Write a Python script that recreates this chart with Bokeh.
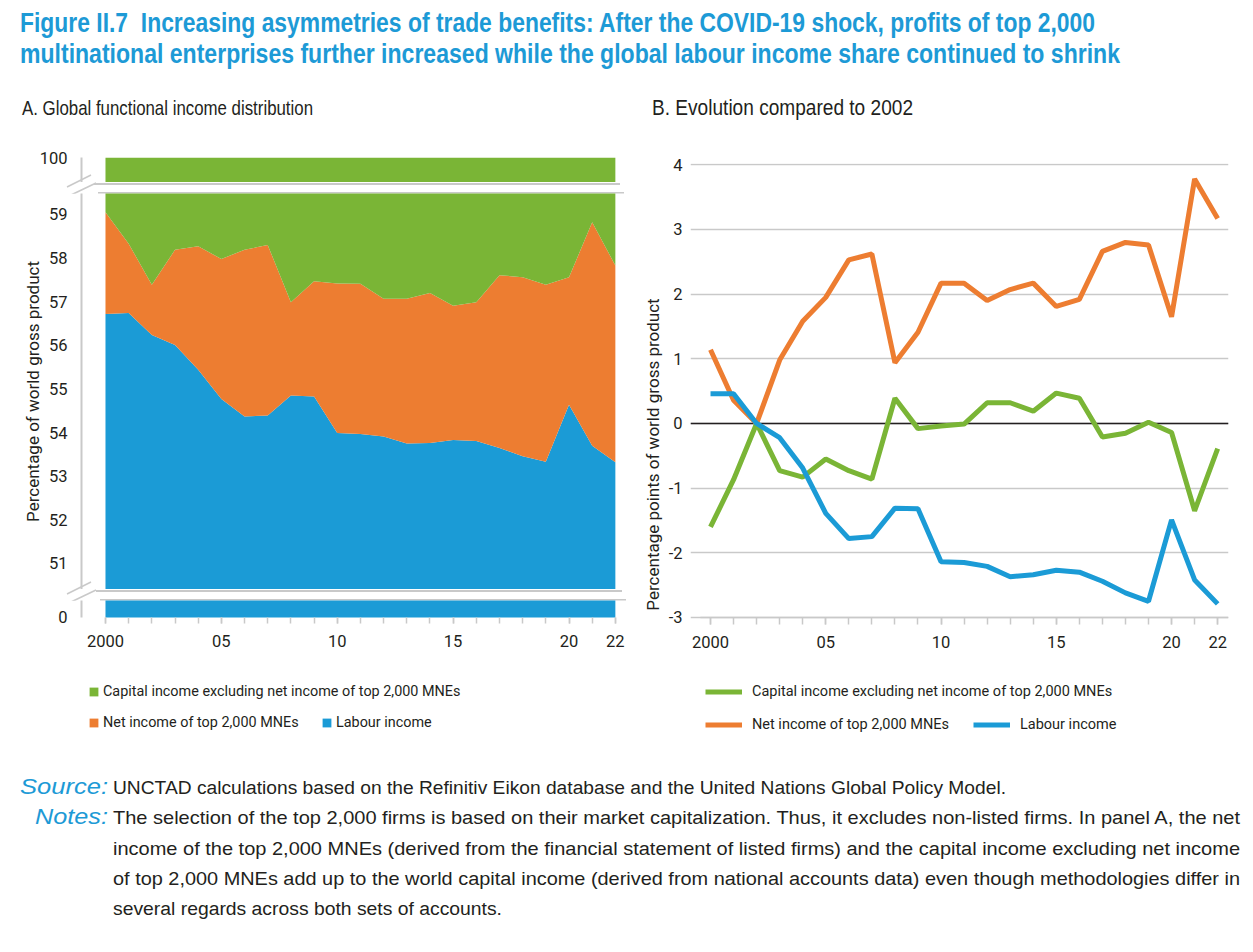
from bokeh.plotting import figure
from bokeh.models import (ColumnDataSource, FixedTicker, Legend, LegendItem, Grid, Div, Range1d)
from bokeh.layouts import column, row
from bokeh.embed import file_html
from bokeh.resources import INLINE

# ---------------- data ----------------
years = list(range(2000, 2023))

# Panel A: shares of world gross product (%)
labour_share = [56.72, 56.74, 56.24, 56.01, 55.44, 54.77, 54.37, 54.39, 54.85, 54.83, 53.99, 53.97,
                53.91, 53.75, 53.76, 53.83, 53.81, 53.65, 53.46, 53.33, 54.64, 53.70, 53.32]
mne_net_share = [2.33, 1.59, 1.15, 2.18, 2.83, 3.21, 3.82, 3.91, 2.14, 2.64, 3.43, 3.44,
                 3.16, 3.32, 3.44, 3.08, 3.18, 3.96, 4.10, 4.06, 2.92, 5.12, 4.51]
capital_excl_share = [40.95, 41.67, 42.61, 41.81, 41.73, 42.02, 41.81, 41.70, 43.01, 42.53, 42.58, 42.59,
                      42.93, 42.93, 42.80, 43.09, 43.01, 42.39, 42.44, 42.61, 42.44, 41.18, 42.17]

# Panel B: percentage points change compared to 2002
chg_capital = [-1.60, -0.87, 0.00, -0.73, -0.83, -0.55, -0.73, -0.86, 0.39, -0.08, -0.04, -0.01,
               0.32, 0.32, 0.19, 0.47, 0.39, -0.21, -0.15, 0.02, -0.14, -1.35, -0.39]
chg_mne = [1.14, 0.36, 0.00, 0.98, 1.58, 1.95, 2.53, 2.62, 0.94, 1.41, 2.17, 2.17,
           1.90, 2.07, 2.17, 1.81, 1.92, 2.66, 2.80, 2.76, 1.65, 3.78, 3.17]
chg_labour = [0.46, 0.46, 0.00, -0.22, -0.69, -1.39, -1.78, -1.75, -1.31, -1.32, -2.14, -2.15,
              -2.21, -2.37, -2.34, -2.27, -2.30, -2.44, -2.62, -2.75, -1.49, -2.42, -2.79]

year_ticks = [2000, 2005, 2010, 2015, 2020, 2022]
year_tick_labels = ["2000", "05", "10", "15", "20", "22"]
b_ticks = [-3, -2, -1, 0, 1, 2, 3, 4]
b_tick_labels = ["-3", "-2", "-1", "0", "1", "2", "3", "4"]

labels = ["Capital income excluding net income of top 2,000 MNEs",
          "Net income of top 2,000 MNEs",
          "Labour income"]

# ---------------- style ----------------
GREEN = "#7ab536"
ORANGE = "#ed7d31"
BLUE = "#1b9bd6"
TITLE_BLUE = "#1d9ad6"
TEXT = "#231f20"
GRAY = "#c9c9c9"
FONT = "Roboto"
TICK_SIZE = "16.5px"

src_a = ColumnDataSource(dict(year=years, labour=labour_share, net=mne_net_share, cap=capital_excl_share))
src_b = ColumnDataSource(dict(year=years, cap=chg_capital, mne=chg_mne, lab=chg_labour))

xr_a = Range1d(1998.965, 2022.61)


def style_yaxis(p, ticks, tick_labels):
    ax = p.yaxis[0]
    ax.ticker = FixedTicker(ticks=ticks)
    ax.major_label_overrides = {t: l for t, l in zip(ticks, tick_labels)}
    ax.axis_line_color = GRAY
    ax.axis_line_width = 2
    ax.major_tick_line_color = None
    ax.minor_tick_line_color = None
    ax.major_label_standoff = 8
    ax.major_label_text_font = FONT
    ax.major_label_text_font_size = TICK_SIZE
    ax.major_label_text_color = TEXT


def style_xaxis(ax, tick_out):
    ax.ticker = FixedTicker(ticks=year_ticks, minor_ticks=years)
    ax.major_label_overrides = {t: l for t, l in zip(year_ticks, year_tick_labels)}
    ax.major_tick_line_color = GRAY
    ax.minor_tick_line_color = GRAY
    ax.major_tick_line_width = 1.5
    ax.minor_tick_line_width = 1.5
    ax.major_tick_out = tick_out
    ax.major_tick_in = 0
    ax.minor_tick_out = tick_out
    ax.minor_tick_in = 0
    ax.major_label_standoff = 12
    ax.major_label_text_font = FONT
    ax.major_label_text_font_size = TICK_SIZE
    ax.major_label_text_color = TEXT


def panel_a_fig(height, yr, top, with_xaxis):
    p = figure(width=627, height=height, x_range=xr_a, y_range=yr,
               output_backend="svg", toolbar_location=None,
               x_axis_location="below" if with_xaxis else None,
               min_border_left=73, min_border_right=6,
               min_border_top=top, min_border_bottom=0)
    p.grid.visible = False
    p.outline_line_color = None
    p.background_fill_color = "white"
    p.border_fill_color = "white"
    rs = p.varea_stack(stackers=["labour", "net", "cap"], x="year",
                       color=[BLUE, ORANGE, GREEN], source=src_a)
    return p, rs


def one_legend(renderer, label, loc, gw, standoff, size):
    return Legend(items=[LegendItem(label=label, renderers=[renderer])], location=loc,
                  orientation="horizontal", background_fill_alpha=0, border_line_color=None,
                  padding=0, margin=0, spacing=0, glyph_width=gw, glyph_height=11,
                  label_height=11, label_standoff=standoff, label_text_font=FONT,
                  label_text_font_size=size, label_text_color=TEXT)


# ---------------- panel A (broken axis: three stacked views) ----------------
pa_top, _ = panel_a_fig(42, Range1d(99.4, 100.0), 17, False)
style_yaxis(pa_top, [100], ["100"])

pa_mid, _ = panel_a_fig(396, Range1d(50.404, 59.481), 0, False)
style_yaxis(pa_mid, [51, 52, 53, 54, 55, 56, 57, 58, 59], [str(v) for v in range(51, 60)])
pa_mid.yaxis.axis_label = "Percentage of world gross product"
pa_mid.yaxis.axis_label_text_font = FONT
pa_mid.yaxis.axis_label_text_font_size = "17px"
pa_mid.yaxis.axis_label_text_font_style = "normal"
pa_mid.yaxis.axis_label_text_color = TEXT
pa_mid.yaxis.axis_label_standoff = 3

pa_bot, rs_a = panel_a_fig(145, Range1d(-3.012, 0.4), 0, True)
style_yaxis(pa_bot, [0], ["0"])
pa_bot.yaxis.bounds = (0, 0.4)
xa = pa_bot.xaxis[0]
style_xaxis(xa, 6)
xa.axis_line_color = None
xa.fixed_location = 0

lab_r, net_r, cap_r = rs_a
pa_bot.add_layout(one_legend(cap_r, labels[0], (7, 45), 11, 4, "14.4px"))
pa_bot.add_layout(one_legend(net_r, labels[1], (7, 14), 11, 4, "14.4px"))
pa_bot.add_layout(one_legend(lab_r, labels[2], (240, 14), 11, 4, "14.4px"))

# ---------------- panel B ----------------
xb_lo, xb_hi = 1999.566, 2022.47
pb = figure(width=610, height=605, x_range=Range1d(1999.132, xb_hi), y_range=Range1d(-4.98, 4.02),
            output_backend="svg", toolbar_location=None,
            min_border_left=55, min_border_right=17, min_border_top=23, min_border_bottom=0)
pb.outline_line_color = None
pb.xgrid.visible = False
pb.ygrid.ticker = FixedTicker(ticks=b_ticks)
pb.ygrid.grid_line_color = GRAY
pb.ygrid.grid_line_width = 1.5
pb.ygrid.bounds = (xb_lo, xb_hi)

yb = pb.yaxis[0]
yb.ticker = FixedTicker(ticks=b_ticks)
yb.major_label_overrides = {t: l for t, l in zip(b_ticks, b_tick_labels)}
yb.axis_line_color = None
yb.major_tick_line_color = None
yb.minor_tick_line_color = None
yb.major_label_standoff = 2
yb.major_label_text_font = FONT
yb.major_label_text_font_size = TICK_SIZE
yb.major_label_text_color = TEXT
yb.axis_label = "Percentage points of world gross product"
yb.axis_label_text_font = FONT
yb.axis_label_text_font_size = "17px"
yb.axis_label_text_font_style = "normal"
yb.axis_label_text_color = TEXT
yb.axis_label_standoff = 3

xb = pb.xaxis[0]
style_xaxis(xb, 7)
xb.axis_line_color = GRAY
xb.axis_line_width = 1.5
xb.fixed_location = -3
xb.bounds = (xb_lo, xb_hi)

pb.add_layout(Grid(dimension=1, ticker=FixedTicker(ticks=[0]), grid_line_color=TEXT,
                   grid_line_width=1.5, bounds=(xb_lo, xb_hi)))
r_mne = pb.line("year", "mne", source=src_b, line_color=ORANGE, line_width=5)
r_cap = pb.line("year", "cap", source=src_b, line_color=GREEN, line_width=5)
r_lab = pb.line("year", "lab", source=src_b, line_color=BLUE, line_width=5)

pb.add_layout(one_legend(r_cap, labels[0], (15, 45.5), 37, 10, "14.5px"))
pb.add_layout(one_legend(r_mne, labels[1], (15, 12), 37, 10, "14.5px"))
pb.add_layout(one_legend(r_lab, labels[2], (283, 12), 37, 10, "14.5px"))


# ---------------- text blocks ----------------
def svg_text(x, y, txt, size, length=None, weight="400", fill=TEXT, anchor="start",
             italic=False, sy=1.0):
    la = f' textLength="{length}" lengthAdjust="spacingAndGlyphs"' if length else ""
    st = ' font-style="italic"' if italic else ""
    return (f'<text transform="translate({x},{y}) scale(1,{sy})" x="0" y="0" font-family="Roboto"'
            f' font-size="{size}" font-weight="{weight}" fill="{fill}" text-anchor="{anchor}"{la}{st}'
            f' style="white-space:pre">{txt}</text>')


header_html = ('<svg width="1245" height="132" style="display:block">'
               + svg_text(12, 24, "Figure II.7  Increasing asymmetries of trade benefits: After the COVID-19 shock, profits of top 2,000",
                          22, 1075, "700", TITLE_BLUE, sy=1.25)
               + svg_text(12, 55, "multinational enterprises further increased while the global labour income share continued to shrink",
                          22, 1100, "700", TITLE_BLUE, sy=1.25)
               + svg_text(14, 107, "A. Global functional income distribution", 16.6, 291, sy=1.25)
               + svg_text(644, 107, "B. Evolution compared to 2002", 17, 261, sy=1.25)
               + '</svg>')
header = Div(text=header_html, width=1245, height=132, margin=0)


def sep_div(x1a, x2a, x1b, x2b):
    html = ('<svg width="627" height="11" style="display:block;overflow:visible">'
            f'<line x1="{x1a}" y1="1" x2="{x2a}" y2="1" stroke="{GRAY}" stroke-width="2"/>'
            f'<line x1="{x1b}" y1="10" x2="{x2b}" y2="10" stroke="{GRAY}" stroke-width="2"/>'
            f'<line x1="59" y1="4" x2="83" y2="-8" stroke="{GRAY}" stroke-width="1.5"/>'
            f'<line x1="63" y1="12" x2="88" y2="0" stroke="{GRAY}" stroke-width="1.5"/>'
            '</svg>')
    return Div(text=html, width=627, height=11, margin=0, styles={"overflow": "visible"})


sep1 = sep_div(86, 612, 90, 616)
sep2 = sep_div(88, 614, 92, 618)

notes_lines = [
    "The selection of the top 2,000 firms is based on their market capitalization. Thus, it excludes non-listed firms. In panel A, the net",
    "income of the top 2,000 MNEs (derived from the financial statement of listed firms) and the capital income excluding net income",
    "of top 2,000 MNEs add up to the world capital income (derived from national accounts data) even though methodologies differ in",
    "several regards across both sets of accounts.",
]
notes_len = [1127, 1127, 1127, 389]
notes_base = [79, 110, 140, 170]

footer_html = ('<svg width="1245" height="191" style="display:block">'
               + svg_text(100, 49, "Source:", 20.5, 88, "400", TITLE_BLUE, "end", True, 1.1)
               + svg_text(105, 49, "UNCTAD calculations based on the Refinitiv Eikon database and the United Nations Global Policy Model.",
                          17.5, 893, sy=1.1)
               + svg_text(100, 79, "Notes:", 20.5, 73, "400", TITLE_BLUE, "end", True, 1.1))
for line, ln, yb_ in zip(notes_lines, notes_len, notes_base):
    footer_html += svg_text(105, yb_, line, 17.5, ln, sy=1.1)
footer_html += '</svg>'
footer = Div(text=footer_html, width=1245, height=191, margin=0)

panel_a = column(pa_top, sep1, pa_mid, sep2, pa_bot, spacing=0)
layout = column(header, row(panel_a, pb, spacing=0), footer, spacing=0, margin=(8, 0, 0, 8))

open("out.html", "w").write(file_html(layout, INLINE))
